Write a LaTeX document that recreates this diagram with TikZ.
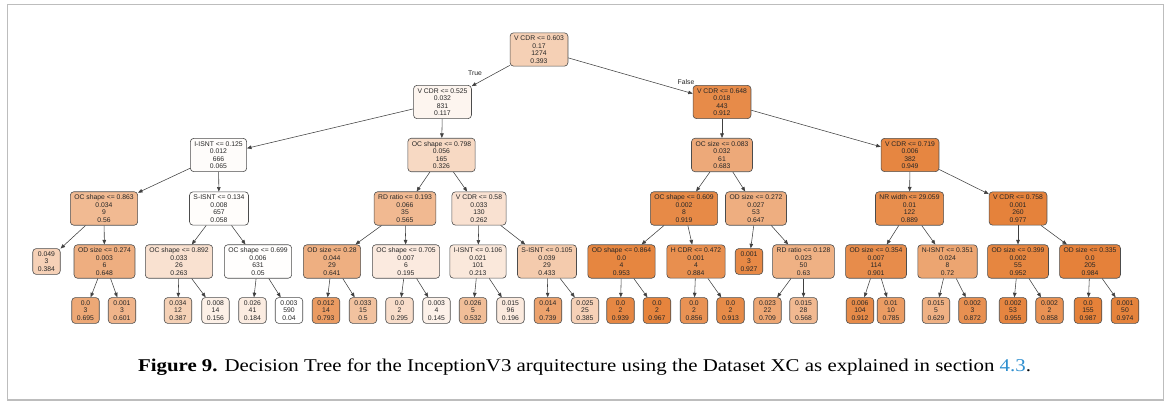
\documentclass[tikz,border=0pt]{standalone}
\usepackage{fontspec}
\setmainfont{Liberation Serif}
\newfontfamily\treefont{Liberation Sans}
\usepackage{xcolor}
\usepackage{tikz}
\usetikzlibrary{arrows.meta}

\definecolor{dtorange}{HTML}{E58139}
\definecolor{dtlink}{HTML}{2F8FCF}
\definecolor{dtframe}{HTML}{BDBDBD}

% fill shade follows the node value (min 0.04, max 0.987)
\tikzset{
    val/.code={\pgfmathsetmacro\dtpct{(#1-0.04)/0.947*100}%
        \colorlet{dtfill}{dtorange!\dtpct!white}\pgfkeysalso{fill=dtfill}},
}

\begin{document}
\begin{tikzpicture}[
    x=1pt, y=-1pt,
    box/.style={draw=black!70, rounded corners=3.5pt, align=center, line width=0.6pt,
        font=\treefont\fontsize{6.8}{7.5}\selectfont, text=black!85, inner xsep=4pt, inner ysep=3pt},
    leaf/.style={box, minimum width=27.5pt},
    edge/.style={-{Triangle[length=4.5pt, width=3.6pt]}, draw=black!75, line width=0.55pt},
    label/.style={font=\treefont\fontsize{6.8}{7.5}\selectfont, text=black!85, inner sep=0pt},
    caption/.style={font=\fontsize{18}{22}\selectfont, inner sep=0pt}
]
    \useasboundingbox (0,0) rectangle (1170,403);
    \draw[dtframe, line width=1.2pt] (7.5,4.5) rectangle (1163.5,400);

    % level 0 and 1
    \node[box, val=0.393] (root) at (539,49.5) {V CDR <= 0.603\\0.17\\1274\\0.393};
    \node[box, val=0.117] (l) at (442.5,102) {V CDR <= 0.525\\0.032\\831\\0.117};
    \node[box, val=0.912] (r) at (722,102) {V CDR <= 0.648\\0.018\\443\\0.912};
    \node[label] (true) at (475,73) {True};
    \node[label] (false) at (686,82) {False};

    % level 2
    \node[box, val=0.065] (ll) at (218.5,155) {I-ISNT <= 0.125\\0.012\\666\\0.065};
    \node[box, val=0.326] (lr) at (441.5,155) {OC shape <= 0.798\\0.056\\165\\0.326};
    \node[box, val=0.683] (rl) at (722,155) {OC size <= 0.083\\0.032\\61\\0.683};
    \node[box, val=0.949] (rr) at (910,155) {V CDR <= 0.719\\0.006\\382\\0.949};

    % level 3
    \node[box, val=0.56] (lll) at (104,208.5) {OC shape <= 0.863\\0.034\\9\\0.56};
    \node[box, val=0.058] (llr) at (219,208.5) {S-ISNT <= 0.134\\0.008\\657\\0.058};
    \node[box, val=0.565] (lrl) at (405,208.5) {RD ratio <= 0.193\\0.066\\35\\0.565};
    \node[box, val=0.262] (lrr) at (479,208.5) {V CDR <= 0.58\\0.033\\130\\0.262};
    \node[box, val=0.919] (rll) at (684,208.5) {OC shape <= 0.609\\0.002\\8\\0.919};
    \node[box, val=0.647] (rlr) at (756,208.5) {OD size <= 0.272\\0.027\\53\\0.647};
    \node[box, val=0.889] (rrl) at (909.5,208.5) {NR width <= 29.059\\0.01\\122\\0.889};
    \node[box, val=0.977] (rrr) at (1018,208.5) {V CDR <= 0.758\\0.001\\260\\0.977};

    % level 4
    \node[leaf, val=0.384] (llll) at (46.5,261.5) {0.049\\3\\0.384};
    \node[box, val=0.648] (lllr) at (104.5,261.5) {OD size <= 0.274\\0.003\\6\\0.648};
    \node[box, val=0.263] (llrl) at (179,261.5) {OC shape <= 0.892\\0.033\\26\\0.263};
    \node[box, val=0.05] (llrr) at (258,261.5) {OC shape <= 0.699\\0.006\\631\\0.05};
    \node[box, val=0.641] (lrll) at (332,261.5) {OD size <= 0.28\\0.044\\29\\0.641};
    \node[box, val=0.195] (lrlr) at (406,261.5) {OC shape <= 0.705\\0.007\\6\\0.195};
    \node[box, val=0.213] (lrrl) at (478,261.5) {I-ISNT <= 0.106\\0.021\\101\\0.213};
    \node[box, val=0.433] (lrrr) at (547,261.5) {S-ISNT <= 0.105\\0.039\\29\\0.433};
    \node[box, val=0.953] (rlll) at (621.5,261.5) {OD shape <= 0.864\\0.0\\4\\0.953};
    \node[box, val=0.884] (rllr) at (696,261.5) {H CDR <= 0.472\\0.001\\4\\0.884};
    \node[leaf, val=0.927] (rlrl) at (749,261.5) {0.001\\3\\0.927};
    \node[box, val=0.63] (rlrr) at (803.5,261.5) {RD ratio <= 0.128\\0.023\\50\\0.63};
    \node[box, val=0.901] (rrll) at (876,261.5) {OD size <= 0.354\\0.007\\114\\0.901};
    \node[box, val=0.72] (rrlr) at (947.5,261.5) {N-ISNT <= 0.351\\0.024\\8\\0.72};
    \node[box, val=0.952] (rrrl) at (1018,261.5) {OD size <= 0.399\\0.002\\55\\0.952};
    \node[box, val=0.984] (rrrr) at (1090,261.5) {OD size <= 0.335\\0.0\\205\\0.984};

    % level 5 (leaves)
    \node[leaf, val=0.695] (lllrl) at (85.5,310.5) {0.0\\3\\0.695};
    \node[leaf, val=0.601] (lllrr) at (122,310.5) {0.001\\3\\0.601};
    \node[leaf, val=0.387] (llrll) at (178,310.5) {0.034\\12\\0.387};
    \node[leaf, val=0.156] (llrlr) at (215.5,310.5) {0.008\\14\\0.156};
    \node[leaf, val=0.184] (llrrl) at (252.5,310.5) {0.026\\41\\0.184};
    \node[leaf, val=0.04] (llrrr) at (289,310.5) {0.003\\590\\0.04};
    \node[leaf, val=0.793] (lrlll) at (326,310.5) {0.012\\14\\0.793};
    \node[leaf, val=0.5] (lrllr) at (363,310.5) {0.033\\15\\0.5};
    \node[leaf, val=0.295] (lrlrl) at (399.5,310.5) {0.0\\2\\0.295};
    \node[leaf, val=0.145] (lrlrr) at (436.5,310.5) {0.003\\4\\0.145};
    \node[leaf, val=0.532] (lrrll) at (473,310.5) {0.026\\5\\0.532};
    \node[leaf, val=0.196] (lrrlr) at (510.5,310.5) {0.015\\96\\0.196};
    \node[leaf, val=0.739] (lrrrl) at (548,310.5) {0.014\\4\\0.739};
    \node[leaf, val=0.385] (lrrrr) at (585,310.5) {0.025\\25\\0.385};
    \node[leaf, val=0.939] (rllll) at (620.5,310.5) {0.0\\2\\0.939};
    \node[leaf, val=0.967] (rlllr) at (657,310.5) {0.0\\2\\0.967};
    \node[leaf, val=0.856] (rllrl) at (694,310.5) {0.0\\2\\0.856};
    \node[leaf, val=0.913] (rllrr) at (730.5,310.5) {0.0\\2\\0.913};
    \node[leaf, val=0.709] (rlrrl) at (767.5,310.5) {0.023\\22\\0.709};
    \node[leaf, val=0.568] (rlrrr) at (803.5,310.5) {0.015\\28\\0.568};
    \node[leaf, val=0.912] (rrlll) at (860,310.5) {0.006\\104\\0.912};
    \node[leaf, val=0.785] (rrllr) at (891,310.5) {0.01\\10\\0.785};
    \node[leaf, val=0.629] (rrlrl) at (936,310.5) {0.015\\5\\0.629};
    \node[leaf, val=0.872] (rrlrr) at (972.5,310.5) {0.002\\3\\0.872};
    \node[leaf, val=0.955] (rrrll) at (1013,310.5) {0.002\\53\\0.955};
    \node[leaf, val=0.858] (rrrlr) at (1049.5,310.5) {0.002\\2\\0.858};
    \node[leaf, val=0.987] (rrrrl) at (1088,310.5) {0.0\\155\\0.987};
    \node[leaf, val=0.974] (rrrrr) at (1125,310.5) {0.001\\50\\0.974};

    \foreach \a/\b in {root/l, root/r, l/ll, l/lr, ll/lll, ll/llr, lll/llll, lll/lllr,
        lllr/lllrl, lllr/lllrr, llr/llrl, llr/llrr, llrl/llrll, llrl/llrlr, llrr/llrrl, llrr/llrrr,
        lr/lrl, lr/lrr, lrl/lrll, lrl/lrlr, lrll/lrlll, lrll/lrllr, lrlr/lrlrl, lrlr/lrlrr,
        lrr/lrrl, lrr/lrrr, lrrl/lrrll, lrrl/lrrlr, lrrr/lrrrl, lrrr/lrrrr,
        r/rl, r/rr, rl/rll, rl/rlr, rll/rlll, rll/rllr, rlll/rllll, rlll/rlllr, rllr/rllrl, rllr/rllrr,
        rlr/rlrl, rlr/rlrr, rlrr/rlrrl, rlrr/rlrrr, rr/rrl, rr/rrr, rrl/rrll, rrl/rrlr,
        rrll/rrlll, rrll/rrllr, rrlr/rrlrl, rrlr/rrlrr, rrr/rrrl, rrr/rrrr,
        rrrl/rrrll, rrrl/rrrlr, rrrr/rrrrl, rrrr/rrrrr}
        \draw[edge] (\a) -- (\b);

    \node[caption] (cap) at (584.5,367) {\scalebox{1.16}[1]{\textbf{Figure 9.} Decision Tree for the InceptionV3 arquitecture using the Dataset XC as explained in section \textcolor{dtlink}{4.3}.}};
\end{tikzpicture}
\end{document}
